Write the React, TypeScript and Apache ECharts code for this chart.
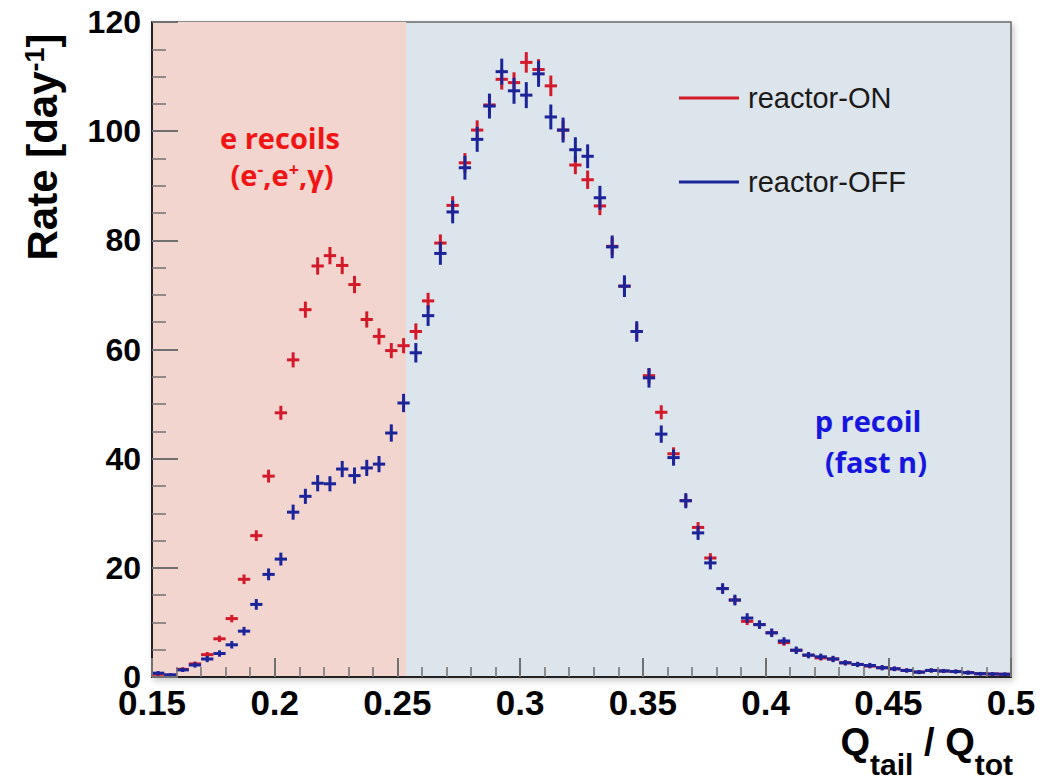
import React, { useEffect, useRef } from "react";
import * as echarts from "echarts";

// Histogram bin centres (bin width 0.005, from 0.15 to 0.5)
const binCenters = [
  0.1525, 0.1575, 0.1625, 0.1675, 0.1725, 0.1775, 0.1825, 0.1875, 0.1925, 0.1975,
  0.2025, 0.2075, 0.2125, 0.2175, 0.2225, 0.2275, 0.2325, 0.2375, 0.2425, 0.2475,
  0.2525, 0.2575, 0.2625, 0.2675, 0.2725, 0.2775, 0.2825, 0.2875, 0.2925, 0.2975,
  0.3025, 0.3075, 0.3125, 0.3175, 0.3225, 0.3275, 0.3325, 0.3375, 0.3425, 0.3475,
  0.3525, 0.3575, 0.3625, 0.3675, 0.3725, 0.3775, 0.3825, 0.3875, 0.3925, 0.3975,
  0.4025, 0.4075, 0.4125, 0.4175, 0.4225, 0.4275, 0.4325, 0.4375, 0.4425, 0.4475,
  0.4525, 0.4575, 0.4625, 0.4675, 0.4725, 0.4775, 0.4825, 0.4875, 0.4925, 0.4975,
];

// reactor-ON rate [day^-1]
const rateOn = [
  0.5, 0.3, 1.4, 2.4, 4.1, 7.0, 10.7, 17.9, 25.9, 36.8,
  48.4, 58.1, 67.3, 75.3, 77.2, 75.4, 71.9, 65.5, 62.4, 59.8,
  60.7, 63.3, 68.9, 79.5, 86.4, 94.2, 100.2, 104.8, 109.5, 108.9,
  112.6, 111.3, 108.3, 100.2, 93.8, 91.1, 86.3, 78.9, 71.6, 63.3,
  55.2, 48.5, 40.9, 32.3, 27.4, 21.8, 16.2, 14.1, 10.2, 9.6,
  8.1, 6.3, 4.9, 4.0, 3.5, 3.3, 2.6, 2.3, 2.0, 1.7,
  1.5, 1.2, 0.9, 1.2, 1.1, 1.0, 0.8, 0.6, 0.55, 0.5,
];
const errOn = [
  0.1, 0.1, 0.2, 0.25, 0.3, 0.4, 0.5, 0.7, 0.8, 1.0,
  1.1, 1.2, 1.3, 1.4, 1.4, 1.4, 1.4, 1.3, 1.3, 1.2,
  1.2, 1.3, 1.3, 1.4, 1.5, 1.6, 1.6, 1.6, 1.7, 1.7,
  1.7, 1.7, 1.7, 1.6, 1.5, 1.5, 1.5, 1.4, 1.4, 1.3,
  1.2, 1.1, 1.0, 0.9, 0.8, 0.7, 0.6, 0.6, 0.5, 0.5,
  0.5, 0.4, 0.35, 0.3, 0.3, 0.3, 0.25, 0.25, 0.2, 0.2,
  0.2, 0.2, 0.15, 0.2, 0.15, 0.15, 0.15, 0.1, 0.1, 0.1,
];

// reactor-OFF rate [day^-1]
const rateOff = [
  0.7, 0.4, 1.3, 2.2, 3.3, 4.3, 5.9, 8.4, 13.3, 18.8,
  21.6, 30.2, 33.1, 35.5, 35.4, 38.1, 36.9, 38.3, 39.0, 44.7,
  50.2, 59.4, 66.2, 77.6, 85.2, 93.3, 98.5, 104.6, 110.9, 107.4,
  106.6, 110.5, 102.6, 100.2, 96.6, 95.4, 87.8, 78.8, 71.6, 63.3,
  54.8, 44.5, 40.2, 32.3, 26.4, 20.9, 16.2, 14.1, 10.8, 9.6,
  8.1, 6.6, 4.9, 4.0, 3.7, 3.3, 2.6, 2.3, 2.1, 1.7,
  1.5, 1.2, 0.9, 1.2, 1.1, 1.0, 0.8, 0.6, 0.55, 0.5,
];
const errOff = [
  0.2, 0.1, 0.2, 0.3, 0.4, 0.4, 0.5, 0.6, 0.8, 0.9,
  1.0, 1.2, 1.2, 1.3, 1.2, 1.3, 1.3, 1.3, 1.3, 1.4,
  1.5, 1.6, 1.7, 1.9, 1.9, 2.0, 2.1, 2.1, 2.2, 2.2,
  2.2, 2.2, 2.1, 2.1, 2.1, 2.0, 2.0, 1.9, 1.8, 1.7,
  1.6, 1.4, 1.3, 1.2, 1.1, 1.0, 0.8, 0.8, 0.7, 0.6,
  0.6, 0.5, 0.5, 0.4, 0.4, 0.4, 0.3, 0.3, 0.3, 0.3,
  0.25, 0.2, 0.2, 0.2, 0.2, 0.2, 0.2, 0.15, 0.15, 0.15,
];

const seriesNames = ["reactor-ON", "reactor-OFF"];
const xRange = [0.15, 0.5];
const yRange = [0, 120];
const eRecoilRegion = [0.15, 0.2535];
const xTickStep = 0.05;
const yTickStep = 20;

const RED = "#d31a2a";
const BLUE = "#1b2499";
const BIN_HALF = 0.0025;

function makeRender(color: string) {
  return (params: any, api: any) => {
    const x = api.value(0);
    const y = api.value(1);
    const e = api.value(2);
    const l = api.coord([x - BIN_HALF, y]);
    const r = api.coord([x + BIN_HALF, y]);
    const t = api.coord([x, y + e]);
    const b = api.coord([x, y - e]);
    return {
      type: "group",
      children: [
        { type: "line", shape: { x1: l[0], y1: l[1], x2: r[0], y2: r[1] }, style: { stroke: color, lineWidth: 3 } },
        { type: "line", shape: { x1: t[0], y1: t[1] - 1, x2: b[0], y2: b[1] + 1 }, style: { stroke: color, lineWidth: 3 } },
      ],
    };
  };
}

export default function App() {
  const ref = useRef<HTMLDivElement>(null);
  useEffect(() => {
    if (!ref.current) return;
    const chart = echarts.init(ref.current, null, { renderer: "svg" });
    const tickColor = "#707070";
    const option: any = {
      animation: false,
      backgroundColor: "#ffffff",
      grid: {
        left: 152,
        right: 44,
        top: 22,
        bottom: 104,
        show: true,
        backgroundColor: "#dce4ec",
        borderColor: "#6a6a6a",
        borderWidth: 1.5,
        shadowColor: "rgba(0,0,0,0.22)",
        shadowBlur: 6,
        shadowOffsetX: 2,
        shadowOffsetY: 3,
      },
      legend: {
        orient: "vertical",
        left: 674,
        top: 78,
        itemWidth: 60,
        itemHeight: 3,
        itemGap: 54,
        selectedMode: false,
        data: [
          { name: seriesNames[0], icon: "rect" },
          { name: seriesNames[1], icon: "rect" },
        ],
        textStyle: {
          fontFamily: "Liberation Sans",
          fontSize: 29,
          lineHeight: 30,
          color: "#1a1a1a",
          padding: [0, 0, 0, 4],
        },
      },
      xAxis: {
        type: "value",
        min: xRange[0],
        max: xRange[1],
        interval: xTickStep,
        z: 5,
        axisLine: { show: true, onZero: false, lineStyle: { color: "#222", width: 2 } },
        axisTick: { show: true, inside: true, length: 19, lineStyle: { color: tickColor, width: 2 } },
        minorTick: { show: true, splitNumber: 5, length: 10, lineStyle: { color: tickColor, width: 1.5 } },
        splitLine: { show: false },
        axisLabel: {
          margin: 8,
          showMinLabel: true,
          showMaxLabel: true,
          fontFamily: "Liberation Sans",
          fontWeight: "bold",
          fontSize: 35,
          color: "#000",
          formatter: (v: number) => String(parseFloat(v.toFixed(3))),
        },
      },
      yAxis: {
        type: "value",
        min: yRange[0],
        max: yRange[1],
        interval: yTickStep,
        z: 5,
        axisLine: { show: true, onZero: false, lineStyle: { color: "#222", width: 2 } },
        axisTick: { show: true, inside: true, length: 26, lineStyle: { color: tickColor, width: 2 } },
        minorTick: { show: true, splitNumber: 4, length: 14, lineStyle: { color: tickColor, width: 1.5 } },
        splitLine: { show: false },
        axisLabel: {
          margin: 11,
          fontFamily: "Liberation Sans",
          fontWeight: "bold",
          fontSize: 32,
          color: "#000",
        },
      },
      series: [
        {
          type: "line",
          name: "region",
          data: [],
          z: 1,
          silent: true,
          markArea: {
            silent: true,
            itemStyle: { color: "#f3d5d0", opacity: 1 },
            data: [[{ xAxis: eRecoilRegion[0] }, { xAxis: eRecoilRegion[1] }]],
          },
        },
        {
          type: "custom",
          name: seriesNames[0],
          z: 3,
          clip: true,
          itemStyle: { color: RED },
          encode: { x: 0, y: 1 },
          data: binCenters.map((x, i) => [x, rateOn[i], errOn[i]]),
          renderItem: makeRender(RED),
        },
        {
          type: "custom",
          name: seriesNames[1],
          z: 4,
          clip: true,
          itemStyle: { color: BLUE },
          encode: { x: 0, y: 1 },
          data: binCenters.map((x, i) => [x, rateOff[i], errOff[i]]),
          renderItem: makeRender(BLUE),
        },
      ],
      graphic: [
        {
          type: "text",
          x: 46,
          y: 147,
          rotation: Math.PI / 2,
          z: 10,
          style: {
            text: "{a|Rate [day}{s|-1}{a|]}",
            align: "center",
            verticalAlign: "middle",
            rich: {
              a: { fontFamily: "Liberation Sans", fontWeight: "bold", fontSize: 42, lineHeight: 50, verticalAlign: "top", fill: "#000" },
              s: { fontFamily: "Liberation Sans", fontWeight: "bold", fontSize: 27, lineHeight: 27, verticalAlign: "top", fill: "#000" },
            },
          },
        },
        {
          type: "text",
          x: 1013,
          y: 723,
          z: 10,
          style: {
            text: "{q|Q}{s|tail}{q| / Q}{s|tot}",
            align: "right",
            verticalAlign: "top",
            rich: {
              q: { fontFamily: "Liberation Sans", fontWeight: "bold", fontSize: 38, lineHeight: 38, verticalAlign: "top", fill: "#000" },
              s: { fontFamily: "Liberation Sans", fontWeight: "bold", fontSize: 30, lineHeight: 30, padding: [26, 0, 0, 0], verticalAlign: "top", fill: "#000" },
            },
          },
        },
        {
          type: "text",
          x: 280,
          y: 137,
          z: 10,
          style: {
            text: "e recoils",
            align: "center",
            verticalAlign: "middle",
            font: "bold 29px 'Open Sans'",
            fill: "#f01414",
          },
        },
        {
          type: "text",
          x: 282,
          y: 178,
          z: 10,
          style: {
            text: "{a|(e}{s|-}{a|,e}{s|+}{a|,γ)}",
            align: "center",
            verticalAlign: "middle",
            rich: {
              a: { fontFamily: "Open Sans", fontWeight: "bold", fontSize: 29, lineHeight: 36, verticalAlign: "top", fill: "#f01414" },
              s: { fontFamily: "Open Sans", fontWeight: "bold", fontSize: 18, lineHeight: 18, verticalAlign: "top", fill: "#f01414" },
            },
          },
        },
        {
          type: "text",
          x: 868,
          y: 420,
          z: 10,
          style: {
            text: "p recoil",
            align: "center",
            verticalAlign: "middle",
            font: "bold 29px 'Open Sans'",
            fill: "#1616e0",
          },
        },
        {
          type: "text",
          x: 876,
          y: 461,
          z: 10,
          style: {
            text: "(fast n)",
            align: "center",
            verticalAlign: "middle",
            font: "bold 29px 'Open Sans'",
            fill: "#1616e0",
          },
        },
      ],
    };
    chart.setOption(option);
    return () => chart.dispose();
  }, []);
  return (
    <div
      ref={ref}
      style={{ position: "fixed", left: 0, top: 0, width: 1055, height: 781 }}
    />
  );
}
